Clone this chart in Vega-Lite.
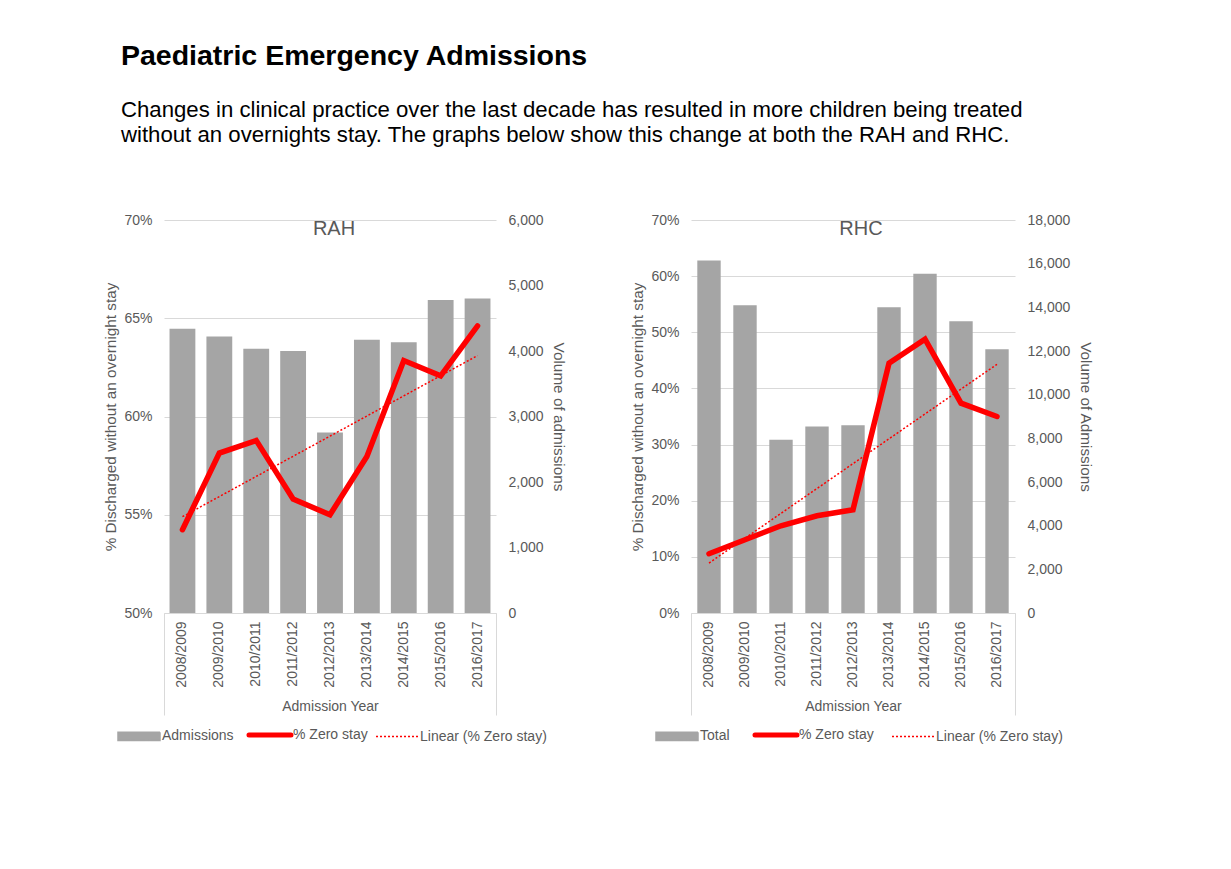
{
  "$schema": "https://vega.github.io/schema/vega-lite/v6.json",
  "background": "white",
  "padding": {"left": 103, "top": 42, "right": 5, "bottom": 5},
  "title": {
    "text": "Paediatric Emergency Admissions",
    "subtitle": ["Changes in clinical practice over the last decade has resulted in more children being treated", "without an overnights stay. The graphs below show this change at both the RAH and RHC."],
    "anchor": "start",
    "frame": "bounds",
    "dx": 17,
    "font": "Liberation Sans",
    "fontSize": 28.5,
    "fontWeight": "bold",
    "color": "#000000",
    "subtitleFont": "Liberation Sans",
    "subtitleFontSize": 22.2,
    "subtitleColor": "#000000",
    "subtitleLineHeight": 25,
    "subtitlePadding": 28,
    "offset": 67
  },
  "datasets": {
    "rah": [
      {"year": "2008/2009", "volume": 4340, "pct": 0.5424},
      {"year": "2009/2010", "volume": 4220, "pct": 0.5814},
      {"year": "2010/2011", "volume": 4035, "pct": 0.5878},
      {"year": "2011/2012", "volume": 4000, "pct": 0.558},
      {"year": "2012/2013", "volume": 2755, "pct": 0.55},
      {"year": "2013/2014", "volume": 4170, "pct": 0.5797},
      {"year": "2014/2015", "volume": 4135, "pct": 0.6285},
      {"year": "2015/2016", "volume": 4780, "pct": 0.6207},
      {"year": "2016/2017", "volume": 4800, "pct": 0.6461}
    ],
    "rahTrend": [
      {"year": "2008/2009", "pct": 0.549},
      {"year": "2016/2017", "pct": 0.631}
    ],
    "rhc": [
      {"year": "2008/2009", "volume": 16150, "pct": 0.1056},
      {"year": "2009/2010", "volume": 14100, "pct": 0.1305},
      {"year": "2010/2011", "volume": 7930, "pct": 0.1554},
      {"year": "2011/2012", "volume": 8540, "pct": 0.1732},
      {"year": "2012/2013", "volume": 8600, "pct": 0.1839},
      {"year": "2013/2014", "volume": 14000, "pct": 0.4449},
      {"year": "2014/2015", "volume": 15540, "pct": 0.4876},
      {"year": "2015/2016", "volume": 13360, "pct": 0.3737},
      {"year": "2016/2017", "volume": 12080, "pct": 0.35}
    ],
    "rhcTrend": [
      {"year": "2008/2009", "pct": 0.089},
      {"year": "2016/2017", "pct": 0.443}
    ]
  },
  "spacing": 195,
  "bounds": "flush",
  "resolve": {"scale": {"color": "independent"}, "legend": {"color": "independent"}},
  "hconcat": [
    {
      "width": 332,
      "height": 393,
      "title": {"text": "RAH", "fontSize": 20, "fontWeight": "normal", "color": "#595959", "font": "Liberation Sans", "baseline": "alphabetic", "offset": -15, "dy": 27, "dx": 4},
      "data": {"name": "rah"},
      "encoding": {
        "x": {"field": "year", "type": "ordinal", "scale": {"paddingInner": 0, "paddingOuter": 0}}
      },
      "layer": [
        {
          "mark": {"type": "bar", "width": {"band": 0.7}},
          "encoding": {
            "x": {"field": "year", "type": "ordinal",
              "axis": {"orient": "bottom", "title": "Admission Year", "labelAngle": -90, "labelPadding": 8, "titlePadding": 12, "ticks": false, "domainColor": "#d9d9d9", "grid": false}},
            "y": {"field": "volume", "type": "quantitative", "scale": {"domain": [0, 6000]},
              "axis": {"orient": "right", "values": [0, 1000, 2000, 3000, 4000, 5000, 6000], "format": ",.0f", "title": "Volume of admissions", "titleFontSize": 15.3, "grid": false, "domain": false, "ticks": false, "labelPadding": 12, "titlePadding": 7}},
            "color": {"datum": "Admissions", "type": "nominal",
              "scale": {"domain": ["Admissions", "% Zero stay", "Linear (% Zero stay)"], "range": ["#a5a5a5", "#ff0000", "#ff0000"]},
              "legend": {"orient": "none", "legendX": -47, "legendY": 508, "direction": "horizontal", "title": null, "symbolSize": 1764, "columnPadding": 5, "symbolOffset": 15, "labelOffset": 16,
                "labelFont": "Liberation Sans", "labelFontSize": 14, "labelColor": "#595959", "labelLimit": 0,
                "encode": {"symbols": {"update": {
                  "shape": {"signal": "datum.value === 'Admissions' ? 'M-1,-0.2H1V0.2H-1Z' : 'stroke'"},
                  "fill": {"signal": "datum.value === 'Admissions' ? '#a5a5a5' : 'transparent'"},
                  "stroke": {"signal": "datum.value === 'Admissions' ? 'transparent' : '#ff0000'"},
                  "strokeWidth": {"signal": "datum.value === '% Zero stay' ? 5 : 1.5"},
                  "strokeCap": {"signal": "datum.value === '% Zero stay' ? 'round' : 'butt'"},
                  "strokeDash": {"signal": "datum.value === 'Linear (% Zero stay)' ? [2, 2] : [1, 0]"},
                  "opacity": {"value": 1}
                }}}}}
          }
        },
        {
          "layer": [
            {
              "mark": {"type": "line", "strokeWidth": 5.5, "strokeCap": "round"},
              "encoding": {
                "x": {"field": "year", "type": "ordinal",
                  "axis": {"orient": "bottom", "values": ["2008/2009"], "bandPosition": 0, "labels": false, "domain": false, "grid": false, "title": null, "ticks": true, "tickSize": 102, "tickColor": "#d9d9d9", "tickWidth": 1}},
                "y": {"field": "pct", "type": "quantitative", "scale": {"domain": [0.5, 0.7]},
                  "axis": {"orient": "left", "values": [0.5, 0.55, 0.6, 0.65, 0.7], "format": ".0%", "title": "% Discharged without an overnight stay", "titleFontSize": 15.3, "grid": true, "gridColor": "#d9d9d9", "domain": false, "ticks": false, "labelPadding": 12, "titlePadding": 5}},
                "color": {"datum": "% Zero stay", "type": "nominal"}
              }
            },
            {
              "data": {"name": "rahTrend"},
              "mark": {"type": "line", "strokeWidth": 1.5, "strokeDash": [2, 2]},
              "encoding": {
                "x": {"field": "year", "type": "ordinal",
                  "axis": {"orient": "bottom", "values": ["2016/2017"], "bandPosition": 1, "labels": false, "domain": false, "grid": false, "title": null, "ticks": true, "tickSize": 102, "tickColor": "#d9d9d9", "tickWidth": 1}},
                "y": {"field": "pct", "type": "quantitative"},
                "color": {"datum": "Linear (% Zero stay)", "type": "nominal"}
              }
            }
          ],
          "resolve": {"axis": {"x": "independent"}}
        }
      ],
      "resolve": {"scale": {"y": "independent"}, "axis": {"x": "independent"}}
    },
    {
      "width": 324,
      "height": 393,
      "title": {"text": "RHC", "fontSize": 20, "fontWeight": "normal", "color": "#595959", "font": "Liberation Sans", "baseline": "alphabetic", "offset": -15, "dy": 27, "dx": 8},
      "data": {"name": "rhc"},
      "encoding": {
        "x": {"field": "year", "type": "ordinal", "scale": {"paddingInner": 0, "paddingOuter": 0}}
      },
      "layer": [
        {
          "mark": {"type": "bar", "width": {"band": 0.65}},
          "encoding": {
            "x": {"field": "year", "type": "ordinal",
              "axis": {"orient": "bottom", "title": "Admission Year", "labelAngle": -90, "labelPadding": 8, "titlePadding": 12, "ticks": false, "domainColor": "#d9d9d9", "grid": false}},
            "y": {"field": "volume", "type": "quantitative", "scale": {"domain": [0, 18000]},
              "axis": {"orient": "right", "values": [0, 2000, 4000, 6000, 8000, 10000, 12000, 14000, 16000, 18000], "format": ",.0f", "title": "Volume of Admissions", "titleFontSize": 15.3, "grid": false, "domain": false, "ticks": false, "labelPadding": 12, "titlePadding": 8}},
            "color": {"datum": "Total", "type": "nominal",
              "scale": {"domain": ["Total", "% Zero stay", "Linear (% Zero stay)"], "range": ["#a5a5a5", "#ff0000", "#ff0000"]},
              "legend": {"orient": "none", "legendX": -36, "legendY": 508, "direction": "horizontal", "title": null, "symbolSize": 1764, "columnPadding": 15, "symbolOffset": 15, "labelOffset": 16,
                "labelFont": "Liberation Sans", "labelFontSize": 14, "labelColor": "#595959", "labelLimit": 0,
                "encode": {"symbols": {"update": {
                  "shape": {"signal": "datum.value === 'Total' ? 'M-1,-0.2H1V0.2H-1Z' : 'stroke'"},
                  "fill": {"signal": "datum.value === 'Total' ? '#a5a5a5' : 'transparent'"},
                  "stroke": {"signal": "datum.value === 'Total' ? 'transparent' : '#ff0000'"},
                  "strokeWidth": {"signal": "datum.value === '% Zero stay' ? 5 : 1.5"},
                  "strokeCap": {"signal": "datum.value === '% Zero stay' ? 'round' : 'butt'"},
                  "strokeDash": {"signal": "datum.value === 'Linear (% Zero stay)' ? [2, 2] : [1, 0]"},
                  "opacity": {"value": 1}
                }}}}}
          }
        },
        {
          "layer": [
            {
              "mark": {"type": "line", "strokeWidth": 5.5, "strokeCap": "round"},
              "encoding": {
                "x": {"field": "year", "type": "ordinal",
                  "axis": {"orient": "bottom", "values": ["2008/2009"], "bandPosition": 0, "labels": false, "domain": false, "grid": false, "title": null, "ticks": true, "tickSize": 102, "tickColor": "#d9d9d9", "tickWidth": 1}},
                "y": {"field": "pct", "type": "quantitative", "scale": {"domain": [0, 0.7]},
                  "axis": {"orient": "left", "values": [0, 0.1, 0.2, 0.3, 0.4, 0.5, 0.6, 0.7], "format": ".0%", "title": "% Discharged without an overnight stay", "titleFontSize": 15.3, "grid": true, "gridColor": "#d9d9d9", "domain": false, "ticks": false, "labelPadding": 12, "titlePadding": 5}},
                "color": {"datum": "% Zero stay", "type": "nominal"}
              }
            },
            {
              "data": {"name": "rhcTrend"},
              "mark": {"type": "line", "strokeWidth": 1.5, "strokeDash": [2, 2]},
              "encoding": {
                "x": {"field": "year", "type": "ordinal",
                  "axis": {"orient": "bottom", "values": ["2016/2017"], "bandPosition": 1, "labels": false, "domain": false, "grid": false, "title": null, "ticks": true, "tickSize": 102, "tickColor": "#d9d9d9", "tickWidth": 1}},
                "y": {"field": "pct", "type": "quantitative"},
                "color": {"datum": "Linear (% Zero stay)", "type": "nominal"}
              }
            }
          ],
          "resolve": {"axis": {"x": "independent"}}
        }
      ],
      "resolve": {"scale": {"y": "independent"}, "axis": {"x": "independent"}}
    }
  ],
  "config": {
    "font": "Liberation Sans",
    "view": {"stroke": null},
    "axis": {"labelFont": "Liberation Sans", "labelFontSize": 14, "labelColor": "#595959", "titleFont": "Liberation Sans", "titleFontSize": 14, "titleColor": "#595959", "titleFontWeight": "normal"}
  }
}
